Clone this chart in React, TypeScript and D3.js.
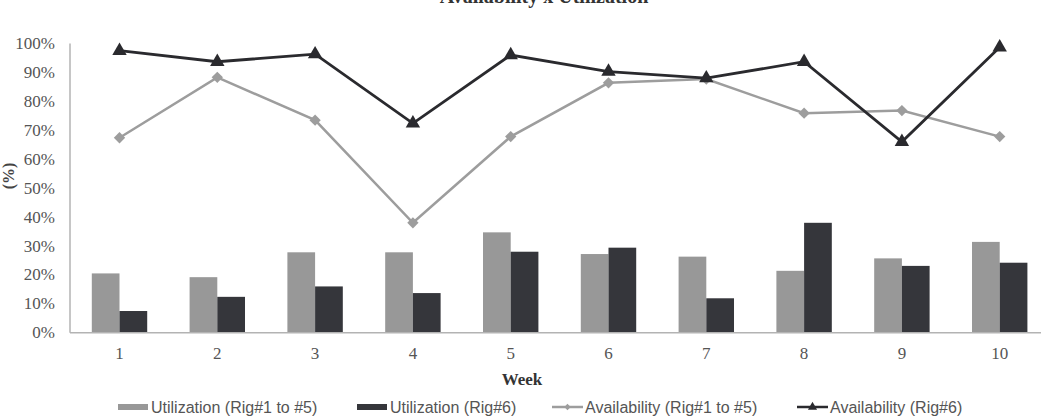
import { useEffect, useRef } from 'react';
import * as d3 from 'd3';

// weekly figures, in percent
const weeks = ['1', '2', '3', '4', '5', '6', '7', '8', '9', '10'];
const utilRig1to5 = [20.5, 19.2, 27.8, 27.8, 34.7, 27.2, 26.3, 21.4, 25.7, 31.4];
const utilRig6 = [7.5, 12.4, 16.0, 13.7, 28.0, 29.4, 11.9, 38.0, 23.1, 24.2];
const availRig1to5 = [67.4, 88.3, 73.5, 38.0, 67.8, 86.4, 87.7, 75.9, 76.8, 67.8];
const availRig6 = [97.5, 93.7, 96.3, 72.4, 96.0, 90.3, 88.0, 93.7, 66.0, 98.7];
const yTicks = [0, 10, 20, 30, 40, 50, 60, 70, 80, 90, 100];

const SERIF = '"Liberation Serif", "Times New Roman", serif';
const SANS = '"Liberation Sans", Arial, sans-serif';

const LIGHT = '#989898';
const DARK = '#35363b';

const AvailabilityChart = () => {
    const svgRef = useRef<SVGSVGElement>(null);

    useEffect(() => {
        const w = 1041;
        const h = 420;
        const svg = d3.select(svgRef.current);
        svg.selectAll('*').remove();
        svg.attr('width', w).attr('height', h);

        const x = d3.scaleBand<string>().domain(weeks).range([70.6, 1048.6]).padding(0);
        const x1 = d3.scaleBand<string>().domain(['a', 'b']).range([0, x.bandwidth()])
            .paddingInner(0).paddingOuter(0.765);
        const y = d3.scaleLinear().domain([0, 100]).range([332.7, 43.5]);
        const cx = (wk: string) => (x(wk) as number) + x.bandwidth() / 2;

        //title (runs off the top edge)
        svg.append('text')
            .attr('x', 544).attr('y', 3)
            .attr('text-anchor', 'middle')
            .style('font-family', SERIF).style('font-weight', 'bold')
            .style('font-size', '20px').attr('fill', '#333')
            .text('Availability x Utilization');

        //y tick labels
        svg.append('g').selectAll('text')
            .data(yTicks).enter().append('text')
            .attr('x', 55).attr('y', d => y(d))
            .attr('dy', '0.33em')
            .attr('text-anchor', 'end')
            .style('font-family', SERIF).style('font-size', '17px')
            .attr('fill', '#555')
            .text(d => d + '%');

        svg.append('text')
            .attr('transform', 'translate(14, 176) rotate(-90)')
            .attr('text-anchor', 'middle')
            .style('font-family', SERIF).style('font-weight', 'bold').style('font-size', '16px')
            .attr('fill', '#444')
            .text('(%)');

        //bars
        const barData = [
            { key: 'a', values: utilRig1to5, color: LIGHT },
            { key: 'b', values: utilRig6, color: DARK },
        ];
        barData.forEach(s => {
            svg.append('g').selectAll('rect')
                .data(weeks).enter().append('rect')
                .attr('x', (d) => (x(d) as number) + (x1(s.key) as number))
                .attr('y', (d, i) => y(s.values[i]))
                .attr('width', x1.bandwidth())
                .attr('height', (d, i) => y(0) - y(s.values[i]))
                .attr('fill', s.color);
        });

        //axes
        svg.append('line')
            .attr('x1', 70).attr('x2', 70)
            .attr('y1', y(100)).attr('y2', y(0))
            .attr('stroke', '#b3b3b3').attr('stroke-width', 1.5);
        svg.append('line')
            .attr('x1', 70).attr('x2', w)
            .attr('y1', y(0)).attr('y2', y(0))
            .attr('stroke', '#b3b3b3').attr('stroke-width', 1.5);

        //lines
        const line = d3.line<number>()
            .x((d, i) => cx(weeks[i]))
            .y(d => y(d));
        const diamond = d3.symbol().type(d3.symbolSquare).size(64);
        const triangle = d3.symbol().type(d3.symbolTriangle).size(90);

        svg.append('path').datum(availRig1to5)
            .attr('d', line).attr('fill', 'none')
            .attr('stroke', '#9d9d9d').attr('stroke-width', 2.5);
        svg.append('g').selectAll('path')
            .data(availRig1to5).enter().append('path')
            .attr('d', diamond() as string)
            .attr('transform', (d, i) => `translate(${cx(weeks[i])}, ${y(d)}) rotate(45)`)
            .attr('fill', '#9d9d9d');

        svg.append('path').datum(availRig6)
            .attr('d', line).attr('fill', 'none')
            .attr('stroke', '#2a2a2e').attr('stroke-width', 2.8);
        svg.append('g').selectAll('path')
            .data(availRig6).enter().append('path')
            .attr('d', triangle() as string)
            .attr('transform', (d, i) => `translate(${cx(weeks[i])}, ${y(d)})`)
            .attr('fill', '#2a2a2e');

        //x tick labels
        svg.append('g').selectAll('text')
            .data(weeks).enter().append('text')
            .attr('x', d => cx(d)).attr('y', 358.5)
            .attr('text-anchor', 'middle')
            .style('font-family', SERIF).style('font-size', '17px')
            .attr('fill', '#555')
            .text(d => d);

        svg.append('text')
            .attr('x', 522).attr('y', 385)
            .attr('text-anchor', 'middle')
            .style('font-family', SERIF).style('font-weight', 'bold').style('font-size', '17px')
            .attr('fill', '#333')
            .text('Week');

        //legend
        const ly = 407;
        const legend = svg.append('g')
            .style('font-family', SANS).style('font-size', '16px');
        const items = [
            { x: 118, label: 'Utilization (Rig#1 to #5)', kind: 'bar', color: LIGHT },
            { x: 357, label: 'Utilization (Rig#6)', kind: 'bar', color: DARK },
            { x: 552, label: 'Availability (Rig#1 to #5)', kind: 'diamond', color: '#9d9d9d' },
            { x: 797, label: 'Availability (Rig#6)', kind: 'triangle', color: '#2a2a2e' },
        ];
        items.forEach(it => {
            if (it.kind === 'bar') {
                legend.append('rect')
                    .attr('x', it.x).attr('y', ly - 3)
                    .attr('width', 30).attr('height', 6)
                    .attr('fill', it.color);
            } else {
                legend.append('line')
                    .attr('x1', it.x).attr('x2', it.x + 31)
                    .attr('y1', ly).attr('y2', ly)
                    .attr('stroke', it.color).attr('stroke-width', 2.5);
                const sym = it.kind === 'diamond'
                    ? d3.symbol().type(d3.symbolSquare).size(20)
                    : d3.symbol().type(d3.symbolTriangle).size(36);
                legend.append('path')
                    .attr('d', sym() as string)
                    .attr('transform', `translate(${it.x + 15.5}, ${ly})` + (it.kind === 'diamond' ? ' rotate(45)' : ''))
                    .attr('fill', it.color);
            }
            legend.append('text')
                .attr('x', it.x + 33).attr('y', ly)
                .attr('dy', '0.35em')
                .attr('fill', '#555')
                .text(it.label);
        });
    }, []);

    return (
        <svg ref={svgRef} style={{ position: 'absolute', left: 0, top: 0, display: 'block' }}></svg>
    );
};

export default function App() {
    return <AvailabilityChart />;
}
